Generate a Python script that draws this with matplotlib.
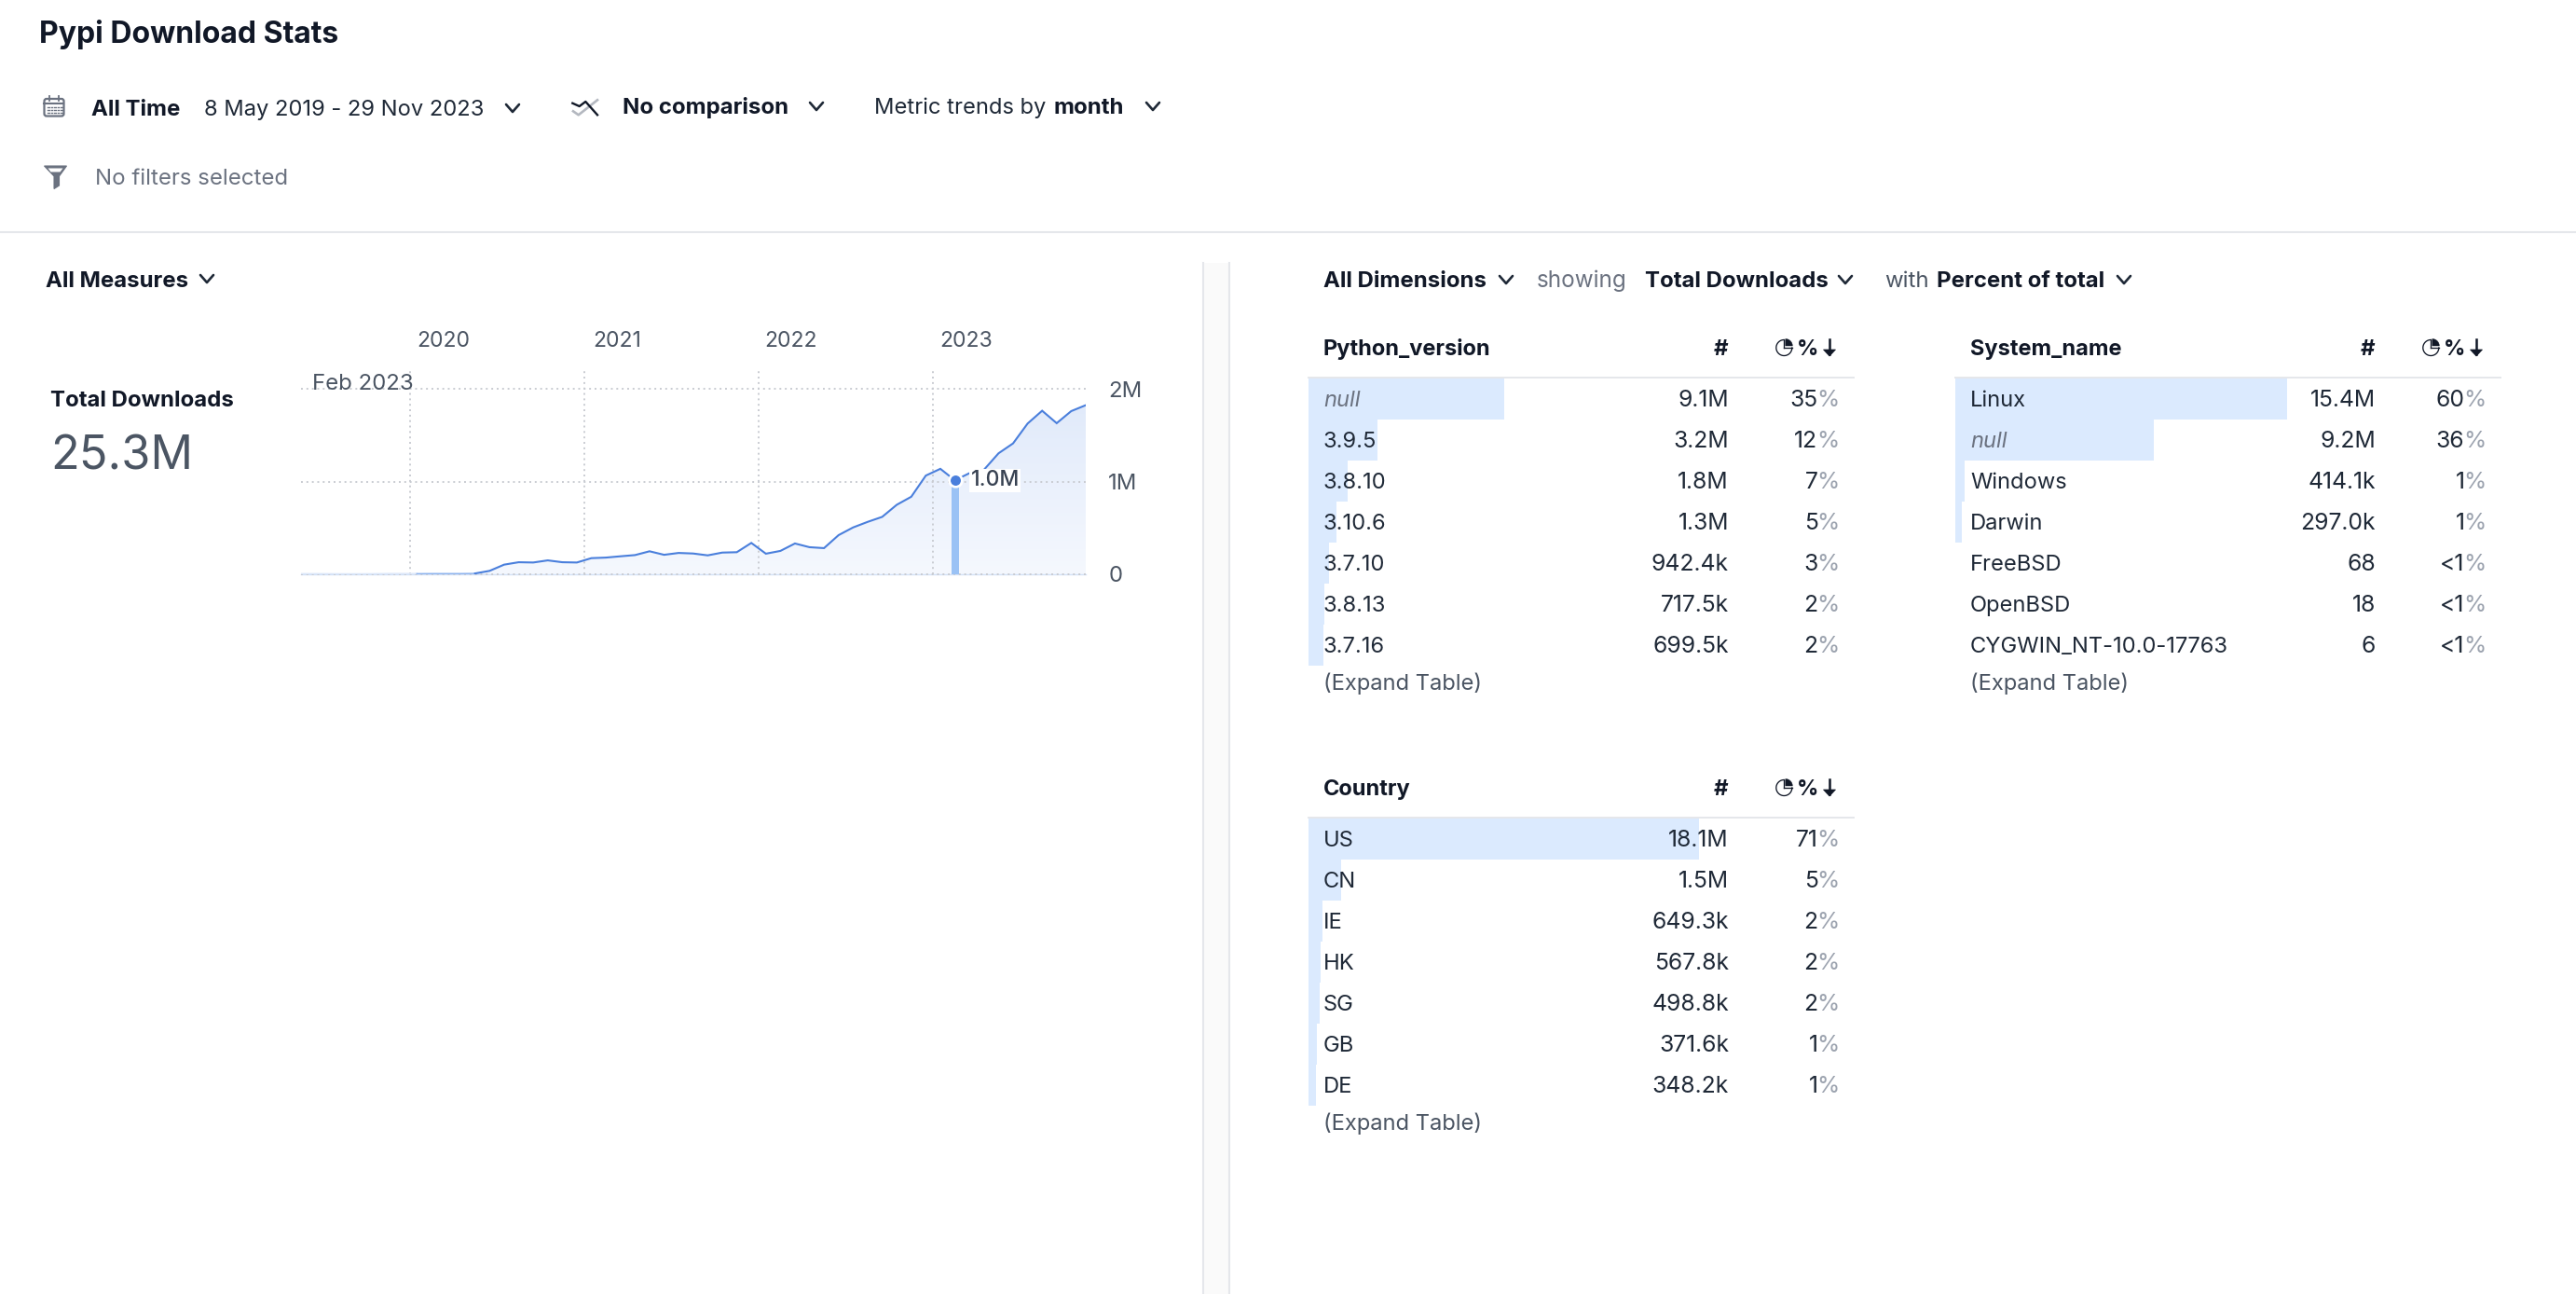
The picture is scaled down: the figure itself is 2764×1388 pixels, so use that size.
import numpy as np
import matplotlib
matplotlib.use("Agg")
import matplotlib.pyplot as plt
from matplotlib.patches import Polygon, Rectangle, FancyBboxPatch
from matplotlib.transforms import ScaledTranslation
from matplotlib.colors import LinearSegmentedColormap

plt.rcParams['font.family'] = ['Inter', 'DejaVu Sans']

# ---------- data ----------
monthly_downloads_m = [0.005, 0.005, 0.004, 0.003, 0.003, 0.004, 0.006, 0.006, 0.006, 0.007, 0.007, 0.007,
                       0.009, 0.037, 0.104, 0.130, 0.127, 0.150, 0.130, 0.127, 0.174, 0.180, 0.194, 0.207,
                       0.248, 0.210, 0.230, 0.224, 0.204, 0.234, 0.238, 0.338, 0.222, 0.252, 0.332, 0.292,
                       0.282, 0.422, 0.505, 0.565, 0.619, 0.749, 0.836, 1.064, 1.137, 1.013, 1.090, 1.127,
                       1.304, 1.411, 1.625, 1.763, 1.629, 1.759, 1.823]
year_labels = ['2020', '2021', '2022', '2023']
year_tick_idx = [7.55, 19.5, 31.5, 43.5]
y_ticks_m = [0, 1, 2]
y_tick_labels = ['0', '1M', '2M']
selected_idx = 45
selected_label = 'Feb 2023'
selected_value_label = '1.0M'
total_downloads = 25.3e6

py_labels = ['null', '3.9.5', '3.8.10', '3.10.6', '3.7.10', '3.8.13', '3.7.16']
py_values = [9.1e6, 3.2e6, 1.8e6, 1.3e6, 942.4e3, 717.5e3, 699.5e3]
py_text = ['9.1M', '3.2M', '1.8M', '1.3M', '942.4k', '717.5k', '699.5k']
py_pct = ['35', '12', '7', '5', '3', '2', '2']

sys_labels = ['Linux', 'null', 'Windows', 'Darwin', 'FreeBSD', 'OpenBSD', 'CYGWIN_NT-10.0-17763']
sys_values = [15.4e6, 9.2e6, 414.1e3, 297.0e3, 68, 18, 6]
sys_text = ['15.4M', '9.2M', '414.1k', '297.0k', '68', '18', '6']
sys_pct = ['60', '36', '1', '1', '<1', '<1', '<1']

ctry_labels = ['US', 'CN', 'IE', 'HK', 'SG', 'GB', 'DE']
ctry_values = [18.1e6, 1.5e6, 649.3e3, 567.8e3, 498.8e3, 371.6e3, 348.2e3]
ctry_text = ['18.1M', '1.5M', '649.3k', '567.8k', '498.8k', '371.6k', '348.2k']
ctry_pct = ['71', '5', '2', '2', '2', '1', '1']

# ---------- colours ----------
INK = '#111827'
BODY = '#1f2937'
GREY = '#6b7280'
SLATE = '#4b5563'
PCTGREY = '#9ca3af'
RULE = '#e5e7eb'
BAR = '#dbeafe'
LINE = '#4a7fdc'

W, H = 2764, 1388
fig = plt.figure(figsize=(W / 100, H / 100), dpi=100, facecolor='white')
PT = 0.72  # px -> pt
BODYPX = 23.7


def px_axes(x0, y0, x1, y1, **kw):
    return fig.add_axes([x0 / W, 1 - y1 / H, (x1 - x0) / W, (y1 - y0) / H], **kw)


# overlay in pixel coordinates for the interface text and icons
ui = px_axes(0, 0, W, H, zorder=5)
ui.set_xlim(0, W)
ui.set_ylim(H, 0)
ui.axis('off')
ui.patch.set_alpha(0)


def T(x, y, s, size=BODYPX, color=BODY, weight='normal', ha='left', style='normal'):
    return ui.text(x, y, s, fontsize=size * PT, color=color, fontweight=weight, ha=ha, va='baseline',
                   fontstyle=style)


def chevron(x, y, color='#1f2937'):
    ui.plot([x - 7, x, x + 7], [y - 4, y + 4, y - 4], color=color, lw=1.9, solid_capstyle='round',
            solid_joinstyle='round')


# ---------- header ----------
title = T(42, 46, 'Pypi Download Stats', size=32, color=INK, weight='bold')
title_w = title.get_window_extent(fig.canvas.get_renderer()).width
title.set_fontsize(title.get_fontsize() * 321 / title_w)
T(98, 124, 'All Time', weight='bold', color=INK, size=24)
T(219, 124, '8 May 2019 - 29 Nov 2023')
chevron(550, 116)
T(668, 122, 'No comparison', weight='bold', color=INK, size=24)
chevron(876, 114)
T(938, 122, 'Metric trends by')
T(1131, 122, 'month', weight='bold', color=INK, size=24)
chevron(1237, 114)
T(102, 198, 'No filters selected', color=GREY, size=24)
ui.plot([0, W], [249, 249], color=RULE, lw=1.5)

# calendar icon
ui.add_patch(FancyBboxPatch((47.5, 106), 21, 18.5, boxstyle='round,pad=0,rounding_size=2.5', fc='none', ec=GREY, lw=1.6))
ui.plot([47.5, 68.5], [110.5, 110.5], color=GREY, lw=1.5)
ui.plot([53, 53], [103, 108], color=GREY, lw=1.3)
ui.plot([63, 63], [103, 108], color=GREY, lw=1.3)
for cy in (114.5, 118, 121):
    for cx in (52, 55.5, 59, 62.5, 66):
        ui.plot([cx - .8, cx + .8], [cy, cy], color=GREY, lw=1.0)

# comparison icon
ui.plot([615, 620.7, 641], [119.3, 123.3, 107.3], color='#b4b8c0', lw=1.9)
ui.plot([614.3, 621.7, 628.3, 641], [110.7, 114, 109, 123.3], color=INK, lw=1.7)

# funnel icon
ui.add_patch(Polygon([(47.5, 178), (71.5, 178), (63.5, 189), (63.5, 199), (58, 202.5), (58, 189)],
                     closed=True, fc=GREY, ec=GREY, lw=0.8))
ui.add_patch(Polygon([(51.5, 180.5), (67.5, 180.5), (64.5, 184.5), (54.5, 184.5)], closed=True, fc='white', ec='none'))

# ---------- measures panel ----------
T(49, 308, 'All Measures', weight='bold', color=INK, size=24)
chevron(222, 299)
T(54, 436, 'Total Downloads', weight='bold', color=INK, size=24)
T(54.5, 503, '25.3M', color=SLATE, size=50.5)

# ---------- chart ----------
X0, X1, YTOP, YBASE = 322.5, 1165, 398, 616
ax = px_axes(X0, YTOP, X1, YBASE, zorder=3)
ax.patch.set_alpha(0)
months = np.arange(len(monthly_downloads_m))
vals = np.array(monthly_downloads_m)
ymax = 2 * (YBASE - YTOP) / (YBASE - 417)

grad = LinearSegmentedColormap.from_list('g', ['#f5f8fe', '#dfe9fa'])
im = ax.imshow(np.linspace(0, 1, 256)[:, None], cmap=grad, origin='lower', aspect='auto',
               extent=(months[0], months[-1], 0, 2), zorder=1)
poly = Polygon(np.r_[np.c_[months, vals], [[months[-1], 0], [months[0], 0]]], closed=True,
               transform=ax.transData, fc='none', ec='none')
ax.add_patch(poly)
im.set_clip_path(poly)
ax.set_xlim(months[0], months[-1])
ax.set_ylim(0, ymax)

ax.xaxis.tick_top()
ax.yaxis.tick_right()
ax.set_xticks(year_tick_idx, year_labels)
ax.set_yticks(y_ticks_m, y_tick_labels)
ax.tick_params(axis='x', length=0, pad=15, labelsize=23 * PT, labelcolor=SLATE)
ax.tick_params(axis='y', length=0, pad=17.5, labelsize=24 * PT, labelcolor=SLATE)
offset = ScaledTranslation(35 / 100, 0, fig.dpi_scale_trans)
for lab in ax.get_xticklabels():
    lab.set_transform(lab.get_transform() + offset)
ax.grid(True, color='#c9ccd2', lw=1.4, linestyle=(0, (1, 2)), zorder=2)
ax.set_axisbelow(False)
for s in ax.spines.values():
    s.set_visible(False)
for gl in ax.get_ygridlines():
    gl.set_clip_on(False)

# the near-zero start of the series renders very faint in the reference
FAINT_END, THIN_END = 8, 12
ax.axhline(0, color='#d3e1f7', lw=1.0, zorder=2, clip_on=False)
ax.bar([selected_idx], [vals[selected_idx]], width=8 / 15.62, color='#9ac2f5', zorder=3)
ax.plot(months[:FAINT_END + 1], vals[:FAINT_END + 1], color='#dce7f9', lw=1.3, zorder=4)
ax.plot(months[FAINT_END:THIN_END + 1], vals[FAINT_END:THIN_END + 1], color='#8fb4ee', lw=1.1, zorder=4)
ax.plot(months[THIN_END:], vals[THIN_END:], color=LINE, lw=1.5, zorder=4, solid_joinstyle='miter')
ax.plot([selected_idx], [vals[selected_idx]], 'o', ms=9.8, mfc=LINE, mec='white', mew=1.9, zorder=6)
ax.annotate(selected_value_label, xy=(selected_idx, vals[selected_idx]), xytext=(17, 0), textcoords='offset pixels',
            va='center', ha='left', fontsize=23 * PT, fontweight='medium', color='#374151', zorder=7,
            bbox=dict(fc='white', ec='none', pad=1))
T(335, 418, selected_label, color=SLATE, size=24)

# ---------- separator band ----------
ui.add_patch(Rectangle((1291, 282), 28, H - 282, fc='#fafafa', ec='none'))
ui.plot([1291, 1291], [282, H], color=RULE, lw=1.5)
ui.plot([1319, 1319], [282, H], color=RULE, lw=1.5)

# ---------- dimensions toolbar ----------
T(1420, 308, 'All Dimensions', weight='bold', color=INK, size=24)
chevron(1616, 300)
T(1649, 308, 'showing', color=GREY, size=24.3)
T(1765, 308, 'Total Downloads', weight='bold', color=INK, size=24)
chevron(1980, 300)
T(2022, 308, 'with', color=SLATE, size=24)
T(2078, 308, 'Percent of total', weight='bold', color=INK, size=24)
chevron(2279, 300)


def pie_icon(cx, cy):
    t = np.radians(np.linspace(0, 270, 50))
    r = 8.5
    ui.plot(cx + r * np.cos(t), cy + r * np.sin(t), color=INK, lw=0.95)
    ui.plot([cx, cx], [cy, cy - r], color=INK, lw=0.95)
    ui.plot([cx, cx + r], [cy, cy], color=INK, lw=0.95)
    t2 = np.radians(np.linspace(0, 90, 20))
    pts = [(cx + 1.5, cy - 2)] + [(cx + 1.5 + 7.5 * np.sin(a), cy - 2 - 7.5 * np.cos(a)) for a in t2]
    ui.add_patch(Polygon(pts, closed=True, fc=INK, ec=INK, lw=0.3))


def table(left, top, title, labels, values, texts, pcts):
    """left = bar origin, top = y of header rule"""
    width = 585
    row = 44
    bx = px_axes(left, top + 1, left + width, top + 1 + 7 * row, zorder=1)
    bx.barh(np.arange(len(values)), values, height=1.0, color=BAR, edgecolor='none')
    bx.set_xlim(0, total_downloads)
    bx.set_ylim(len(values) - 0.5, -0.5)
    bx.axis('off')

    x_lab = left + 16
    x_num = left + 451
    x_pct = left + 569.5
    ui.plot([left, left + width], [top, top], color=RULE, lw=1.4)
    T(x_lab, top - 24, title, weight='bold', color=INK, size=23.6)
    T(x_num - 1, top - 24, '#', weight='bold', color=INK, size=24, ha='right')
    pie_icon(left + 510.3, top - 32)
    T(left + 523.5, top - 24, '%', weight='bold', color=INK, size=23)
    ax_x = left + 559
    ui.plot([ax_x, ax_x], [top - 41, top - 25], color=INK, lw=1.8)
    ui.add_patch(Polygon([(ax_x - 6.5, top - 30), (ax_x + 6.5, top - 30), (ax_x, top - 23)], closed=True, fc=INK, ec=INK, lw=.5))

    for i, (lab, tx, pc) in enumerate(zip(labels, texts, pcts)):
        base = top + 1 + row * i + 30
        if lab == 'null':
            T(x_lab, base, lab, color=GREY, style='italic')
        else:
            T(x_lab, base, lab)
        T(x_num, base, tx, ha='right', size=24.7)
        T(x_pct, base, '%', color=PCTGREY, ha='right', size=24.7)
        T(x_pct - 23, base, pc, ha='right', size=24.7)
    T(x_lab, top + 1 + row * 7 + 26, '(Expand Table)', color=SLATE)


table(1404, 405, 'Python_version', py_labels, py_values, py_text, py_pct)
table(2098, 405, 'System_name', sys_labels, sys_values, sys_text, sys_pct)
table(1404, 877, 'Country', ctry_labels, ctry_values, ctry_text, ctry_pct)

fig.savefig('out.png', dpi=100, facecolor='white')
